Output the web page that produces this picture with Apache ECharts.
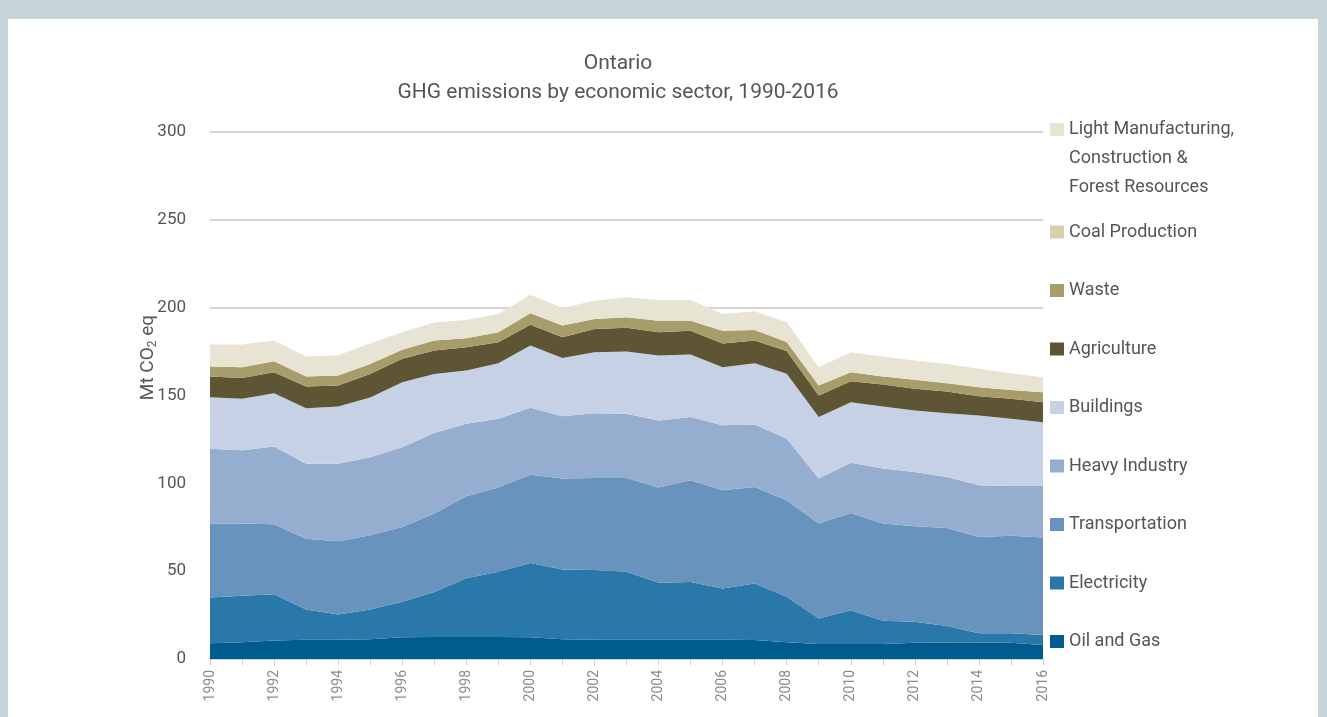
<!DOCTYPE html>
<html>
<head>
<meta charset="utf-8">
<title>Ontario GHG emissions by economic sector</title>
<script src="https://cdn.jsdelivr.net/npm/echarts@6/dist/echarts.min.js"></script>
<style>
  html, body { margin: 0; padding: 0; width: 1327px; height: 717px; overflow: hidden; background: #c5d4d8; }
  .panel { position: absolute; left: 8px; top: 19px; width: 1310px; height: 720px; background: #fff; }
  #chart { position: absolute; left: 0; top: 0; width: 1327px; height: 717px; }
</style>
</head>
<body>
<div class="panel"></div>
<div id="chart"></div>
<script>
// years on the x axis
const years = ["1990","1991","1992","1993","1994","1995","1996","1997","1998","1999","2000","2001","2002","2003","2004","2005","2006","2007","2008","2009","2010","2011","2012","2013","2014","2015","2016"];

// Mt CO2 eq by sector
const oilGas = [9.0,9.5,10.6,11.0,11.0,11.2,12.4,12.5,12.5,12.5,12.4,11.2,11.0,11.0,11.0,11.0,11.0,10.8,9.6,8.6,8.5,8.5,9.3,9.4,9.4,9.3,8.0];
const electricity = [26.0,26.5,26.3,17.2,14.4,17.0,20.2,25.7,33.4,37.1,42.3,39.8,39.6,38.6,32.4,32.9,29.2,32.2,25.8,14.5,19.3,13.3,11.9,9.4,5.2,5.3,5.6];
const transportation = [42.1,41.1,39.8,40.2,41.6,42.3,42.6,44.6,46.7,48.0,50.2,51.7,52.4,53.4,54.2,57.8,55.8,54.9,54.9,54.0,55.3,55.3,54.4,55.8,54.9,55.5,55.5];
const heavyIndustry = [42.6,41.7,44.3,42.8,44.2,44.4,45.4,45.8,41.3,39.2,38.1,35.5,36.9,36.6,38.2,36.0,37.0,35.6,35.1,25.6,28.6,31.3,30.8,29.0,29.4,28.4,29.4];
const buildings = [29.3,29.3,30.3,31.6,32.6,33.9,37.0,33.7,30.3,31.6,35.4,33.2,34.7,35.4,36.9,35.6,33.1,34.9,37.0,35.0,34.5,35.4,35.1,36.3,39.7,38.3,36.3];
const agriculture = [11.8,11.9,12.0,12.3,11.9,13.5,13.3,13.3,13.3,11.9,11.9,11.7,13.3,13.5,13.3,13.6,13.5,12.9,13.0,12.3,11.9,12.4,12.3,12.4,11.0,11.3,11.4];
const waste = [5.7,6.1,6.2,5.7,5.7,5.7,5.1,5.7,5.1,5.7,6.5,6.7,5.7,6.0,6.6,5.7,7.3,6.0,5.0,5.7,5.2,4.6,5.1,4.7,5.1,5.1,5.7];
const coalProduction = [0,0,0,0,0,0,0,0,0,0,0,0,0,0,0,0,0,0,0,0,0,0,0,0,0,0,0];
const lightManufacturing = [12.5,12.9,11.8,11.4,11.5,11.7,10.0,10.3,10.4,10.4,10.6,10.0,10.4,11.4,11.8,11.8,9.5,10.6,11.3,10.4,11.3,11.4,11.0,11.0,10.5,9.5,8.5];

const lmName = "Light Manufacturing,\nConstruction &\nForest Resources";

// bottom to top
const sectors = [
  {name: "Oil and Gas", data: oilGas, color: "#005b8f"},
  {name: "Electricity", data: electricity, color: "#2a77aa"},
  {name: "Transportation", data: transportation, color: "#6893bd"},
  {name: "Heavy Industry", data: heavyIndustry, color: "#95aed0"},
  {name: "Buildings", data: buildings, color: "#c6d1e6"},
  {name: "Agriculture", data: agriculture, color: "#5e5535"},
  {name: "Waste", data: waste, color: "#a79d6b"},
  {name: "Coal Production", data: coalProduction, color: "#d6d2b0"},
  {name: lmName, data: lightManufacturing, color: "#e8e4d4"}
];

const fontName = "Roboto, 'Open Sans', sans-serif";

const chart = echarts.init(document.getElementById("chart"));
const option = {
  animation: false,
  backgroundColor: "transparent",
  textStyle: {fontFamily: fontName},
  title: {
    text: "Ontario\nGHG emissions by economic sector, 1990-2016",
    left: 613,
    top: 44,
    textAlign: "center",
    textStyle: {fontFamily: fontName, fontSize: 21, fontWeight: "normal", color: "#555", lineHeight: 29}
  },
  legend: [
    {
      // blank lines on top so the square sits next to the first line
      data: [lmName],
      orient: "vertical",
      left: 1045,
      top: 52,
      icon: "rect",
      itemWidth: 14,
      itemHeight: 13,
      selectedMode: false,
      formatter: name => "\n\n" + name,
      textStyle: {fontFamily: fontName, fontSize: 18, color: "#555", lineHeight: 29}
    },
    {
      data: ["Coal Production","Waste","Agriculture","Buildings","Heavy Industry","Transportation","Electricity","Oil and Gas"],
      orient: "vertical",
      left: 1045,
      top: 217,
      icon: "rect",
      itemWidth: 14,
      itemHeight: 13,
      itemGap: 38.5,
      selectedMode: false,
      textStyle: {fontFamily: fontName, fontSize: 18, color: "#555", lineHeight: 20}
    }
  ],
  grid: {left: 210, right: 284, top: 132, bottom: 58},
  xAxis: {
    type: "category",
    data: years,
    boundaryGap: false,
    axisLine: {lineStyle: {color: "#c9d5dd", width: 2}},
    axisTick: {show: true, interval: 0, length: 6, lineStyle: {color: "#cccccc"}},
    axisLabel: {interval: 1, rotate: 90, margin: 11, fontSize: 14, color: "#8a8a8a", fontFamily: fontName}
  },
  yAxis: {
    type: "value",
    min: 0,
    max: 300,
    interval: 50,
    name: "Mt CO{sub|2} eq",
    nameLocation: "middle",
    nameGap: 51,
    nameMoveOverlap: false,
    nameTextStyle: {
      fontFamily: fontName, fontSize: 19, color: "#555",
      padding: [0, 0, 0, 76],
      rich: {sub: {fontFamily: fontName, fontSize: 12, color: "#555", verticalAlign: "bottom", padding: [9, 0, 0, 0]}}
    },
    axisLine: {show: false},
    axisTick: {show: false},
    axisLabel: {fontSize: 17, color: "#555", margin: 24, fontFamily: fontName},
    splitLine: {lineStyle: {color: "#d4d4d4", width: 2}}
  },
  series: sectors.map(s => ({
    name: s.name,
    type: "line",
    stack: "total",
    data: s.data,
    symbol: "none",
    lineStyle: {width: 0},
    itemStyle: {color: s.color},
    areaStyle: {color: s.color, opacity: 1},
    emphasis: {disabled: true}
  }))
};
chart.setOption(option);
window.addEventListener("resize", chart.resize);
</script>
</body>
</html>
